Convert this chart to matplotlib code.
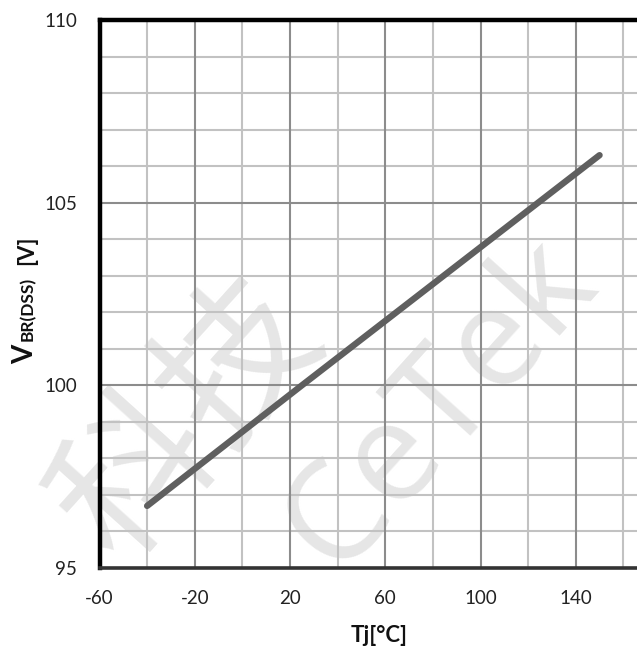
import numpy as np
import matplotlib.pyplot as plt

# curva V(BR)DSS x Tj
temperatura = [-40, 25, 150]
tensao = [96.7, 100.0, 106.3]

# eixos
ticks_x = [-60, -20, 20, 60, 100, 140]
grade_x_fina = [-40, 0, 40, 80, 120, 160]
ticks_y = [95, 100, 105, 110]
grade_y_fina = [96, 97, 98, 99, 101, 102, 103, 104, 106, 107, 108, 109]

plt.rcParams['font.family'] = ['Lato', 'DejaVu Sans']
plt.rcParams['axes.unicode_minus'] = False

fig = plt.figure(figsize=(6.37, 6.47), dpi=100)
ax = fig.add_axes([99.5/637, 79/647, 571.5/637, 548/647])
ax.patch.set_facecolor('none')

# marca d'água (reduzida para caber na figura)
fig.text(190/637, 1 - 420/647, "科技", rotation=48, fontsize=112, color='#e6e6e6',
         family=['Noto Sans CJK SC', 'DejaVu Sans'], ha='center', va='center', zorder=-5)
fig.text(440/637, 1 - 405/647, "CeTek", rotation=48, fontsize=100, color='#e6e6e6',
         family=['Open Sans', 'DejaVu Sans'], ha='center', va='center', zorder=-5)

# grade
for g in grade_x_fina:
    ax.axvline(g, color='#c2c2c2', lw=1.5, zorder=1)
for g in ticks_x:
    ax.axvline(g, color='#8c8c8c', lw=1.5, zorder=1.5)
for g in grade_y_fina:
    ax.axhline(g, color='#c2c2c2', lw=1.5, zorder=1)
for g in ticks_y:
    ax.axhline(g, color='#8c8c8c', lw=1.5, zorder=1.5)

ax.plot(temperatura, tensao, color='#5f5f5f', lw=4.6, solid_capstyle='round', zorder=3)

ax.set_xlim(-60, 180)
ax.set_ylim(95, 110)
ax.set_xticks(ticks_x)
ax.set_yticks(ticks_y)
ax.tick_params(axis='both', length=0, labelsize=13.5, colors='#222222')
ax.tick_params(axis='x', pad=16)
ax.tick_params(axis='y', pad=16)

ax.spines['left'].set_linewidth(3.2)
ax.spines['left'].set_color('black')
ax.spines['top'].set_linewidth(3.2)
ax.spines['top'].set_color('black')
ax.spines['bottom'].set_linewidth(2.6)
ax.spines['bottom'].set_color('#333333')
ax.spines['right'].set_visible(False)
for s in ax.spines.values():
    s.set_zorder(4)

# rótulo do eixo y em partes: V, BR(DSS), [V]
bx = 33/637
fig.text(bx, 1 - 364/647, "V", rotation=90, rotation_mode='anchor', ha='left', va='baseline',
         fontsize=20, weight='bold', color='#111111')
fig.text(bx, 1 - 341/647, "BR(DSS)", rotation=90, rotation_mode='anchor', ha='left', va='baseline',
         fontsize=12.5, weight='bold', color='#111111')
fig.text(bx, 1 - 265/647, "[V]", rotation=90, rotation_mode='anchor', ha='left', va='baseline',
         fontsize=16, weight='bold', color='#111111')

# rótulo do eixo x
fig.text(379/637, 1 - 642/647, "Tj[°C]", ha='center', va='baseline',
         fontsize=16, weight='bold', color='#111111')

fig.savefig("out.png", dpi=100, facecolor='white')
